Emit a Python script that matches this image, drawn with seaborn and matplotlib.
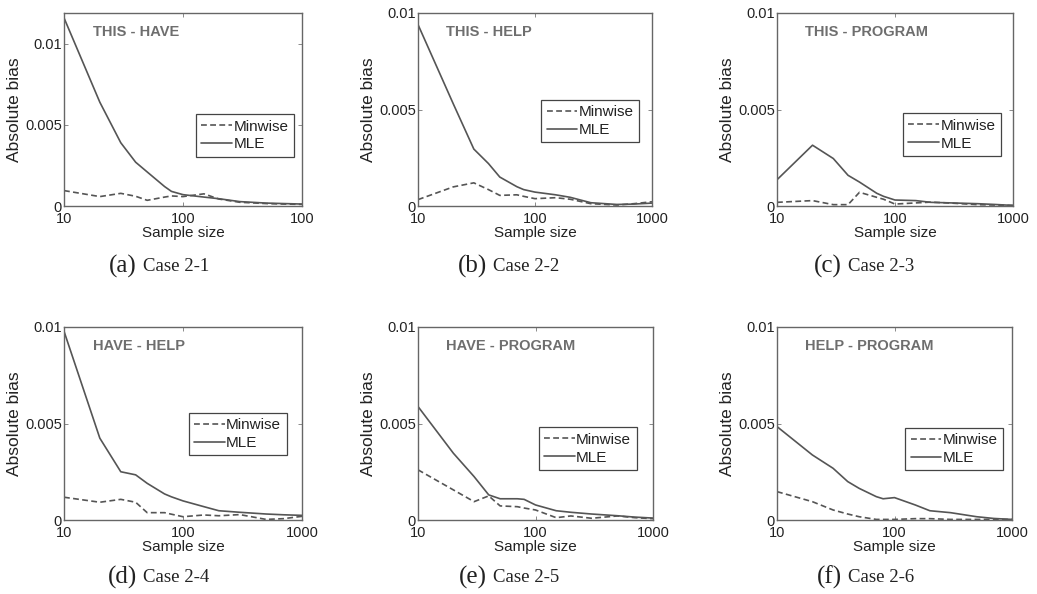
import numpy as np
import pandas as pd
import matplotlib
matplotlib.use("Agg")
import matplotlib.pyplot as plt
import seaborn as sns

# ---------------- data (values in units of 1e-3) ----------------
sample_size = [10, 20, 30, 40, 50, 70, 80, 100, 150, 200, 300, 500, 700, 1000]

mle_a = [11.6, 6.4, 3.9, 2.7, 2.1, 1.2, 0.9, 0.7, 0.55, 0.45, 0.27, 0.18, 0.15, 0.12]
min_a = [0.95, 0.58, 0.78, 0.6, 0.35, 0.55, 0.62, 0.58, 0.75, 0.43, 0.23, 0.15, 0.12, 0.10]

mle_b = [9.4, 5.3, 2.95, 2.2, 1.5, 1.0, 0.85, 0.72, 0.58, 0.45, 0.17, 0.08, 0.10, 0.15]
min_b = [0.33, 0.99, 1.2, 0.85, 0.55, 0.58, 0.5, 0.38, 0.43, 0.35, 0.12, 0.05, 0.12, 0.22]

mle_c = [1.36, 3.15, 2.46, 1.59, 1.24, 0.66, 0.5, 0.31, 0.28, 0.19, 0.16, 0.12, 0.08, 0.03]
min_c = [0.19, 0.28, 0.07, 0.07, 0.71, 0.45, 0.35, 0.10, 0.16, 0.20, 0.15, 0.07, 0.05, 0.03]

mle_d = [9.78, 4.24, 2.5, 2.34, 1.9, 1.35, 1.2, 0.99, 0.69, 0.48, 0.40, 0.31, 0.27, 0.24]
min_d = [1.18, 0.92, 1.07, 0.92, 0.38, 0.38, 0.3, 0.17, 0.26, 0.22, 0.28, 0.03, 0.07, 0.19]

mle_e = [5.88, 3.46, 2.25, 1.3, 1.1, 1.1, 1.07, 0.78, 0.48, 0.40, 0.31, 0.22, 0.15, 0.10]
min_e = [2.6, 1.56, 0.95, 1.25, 0.73, 0.69, 0.62, 0.52, 0.12, 0.21, 0.09, 0.21, 0.12, 0.07]

mle_f = [4.84, 3.37, 2.68, 1.99, 1.64, 1.21, 1.1, 1.16, 0.78, 0.48, 0.38, 0.17, 0.08, 0.03]
min_f = [1.47, 0.95, 0.52, 0.31, 0.17, 0.03, 0.03, 0.03, 0.07, 0.07, 0.03, 0.03, 0.03, 0.03]

pair_titles = ["THIS - HAVE", "THIS - HELP", "THIS - PROGRAM",
               "HAVE - HELP", "HAVE - PROGRAM", "HELP - PROGRAM"]
captions_letter = ["(a)", "(b)", "(c)", "(d)", "(e)", "(f)"]
captions_case = ["Case 2-1", "Case 2-2", "Case 2-3", "Case 2-4", "Case 2-5", "Case 2-6"]
x_ticks = [10, 100, 1000]
x_ticklabels_a = ["10", "100", "100"]
x_ticklabels = ["10", "100", "1000"]
y_ticks = [0, 0.005, 0.01]
y_ticklabels = ["0", "0.005", "0.01"]

mle_all = [mle_a, mle_b, mle_c, mle_d, mle_e, mle_f]
min_all = [min_a, min_b, min_c, min_d, min_e, min_f]

# ---------------- style ----------------
sns.set_theme(style="white")
plt.rcParams["font.family"] = ["Liberation Sans", "DejaVu Sans"]

W, H = 1037, 594
fig = plt.figure(figsize=(W / 100, H / 100), dpi=100)

# axes boxes in pixels: (left, top, right, bottom)
boxes = [(64, 13, 302, 206), (418, 13, 652, 206), (777, 13, 1013, 206),
         (64, 327, 302, 520), (418, 327, 653, 520), (777, 327, 1012, 520)]
legend_anchor = [(0.965, 0.475), (0.945, 0.55), (0.948, 0.48),
                 (0.935, 0.555), (0.93, 0.48), (0.962, 0.477)]
ymax = [0.0119, 0.01, 0.01, 0.01, 0.01, 0.01]
caption_x = [157, 507, 862, 157, 507, 862]
caption_y = [266, 266, 266, 577, 577, 577]

line_col = "#555555"
txt_col = "#222222"

for i in range(6):
    l, t, r, b = boxes[i]
    ax = fig.add_axes([l / W, 1 - b / H, (r - l) / W, (b - t) / H])
    df = pd.DataFrame({
        "Sample size": sample_size * 2,
        "bias": np.concatenate([np.array(min_all[i]), np.array(mle_all[i])]) * 1e-3,
        "Method": ["Minwise"] * len(sample_size) + ["MLE"] * len(sample_size),
    })
    sns.lineplot(data=df[df.Method == "Minwise"], x="Sample size", y="bias",
                 ax=ax, color=line_col, linewidth=1.2, linestyle=(0, (3.5, 2)),
                 label="Minwise")
    sns.lineplot(data=df[df.Method == "MLE"], x="Sample size", y="bias",
                 ax=ax, color=line_col, linewidth=1.2, linestyle="-",
                 label="MLE")
    ax.set_xscale("log")
    ax.set_xlim(10, 1000)
    ax.set_ylim(0, ymax[i])
    ax.set_xticks(x_ticks)
    ax.set_xticklabels(x_ticklabels_a if i == 0 else x_ticklabels)
    ax.minorticks_off()
    ax.set_yticks(y_ticks)
    ax.set_yticklabels(y_ticklabels)
    ax.tick_params(direction="in", length=3, width=0.6, colors="#777777",
                   labelcolor=txt_col, labelsize=10.5,
                   top=True, right=True, bottom=True, left=True)
    ax.tick_params(axis="x", pad=4)
    ax.tick_params(axis="y", pad=1.5)
    ax.set_xlabel("Sample size", fontsize=11, color=txt_col, labelpad=0)
    ax.set_ylabel("Absolute bias", fontsize=12.5, color=txt_col, labelpad=2)
    for s in ax.spines.values():
        s.set_visible(True)
        s.set_color("#666666")
        s.set_linewidth(1.0)
    ax.text(0.12, 0.9, pair_titles[i], transform=ax.transAxes,
            fontsize=10.5, fontweight="bold", color="#6e6e6e", va="center", ha="left")
    leg = ax.legend(loc="upper right", bbox_to_anchor=legend_anchor[i],
                    fontsize=11, frameon=True, fancybox=False, shadow=False,
                    handlelength=2.0, handletextpad=0.1, borderpad=0.35,
                    labelspacing=0.25, borderaxespad=0)
    leg.get_frame().set_edgecolor("#444444")
    leg.get_frame().set_linewidth(0.9)
    leg.get_frame().set_facecolor("white")
    leg.get_frame().set_alpha(1)
    for tx in leg.get_texts():
        tx.set_color(txt_col)

    cx, cy = caption_x[i], caption_y[i]
    fig.text((cx - 20) / W, 1 - cy / H, captions_letter[i], fontsize=18,
             family=["Liberation Serif"], color=txt_col, ha="right", va="center")
    fig.text((cx - 14) / W, 1 - cy / H, captions_case[i], fontsize=13.5,
             family=["Liberation Serif"], color=txt_col, ha="left", va="center")

fig.savefig("out.png", dpi=100, facecolor="white")
